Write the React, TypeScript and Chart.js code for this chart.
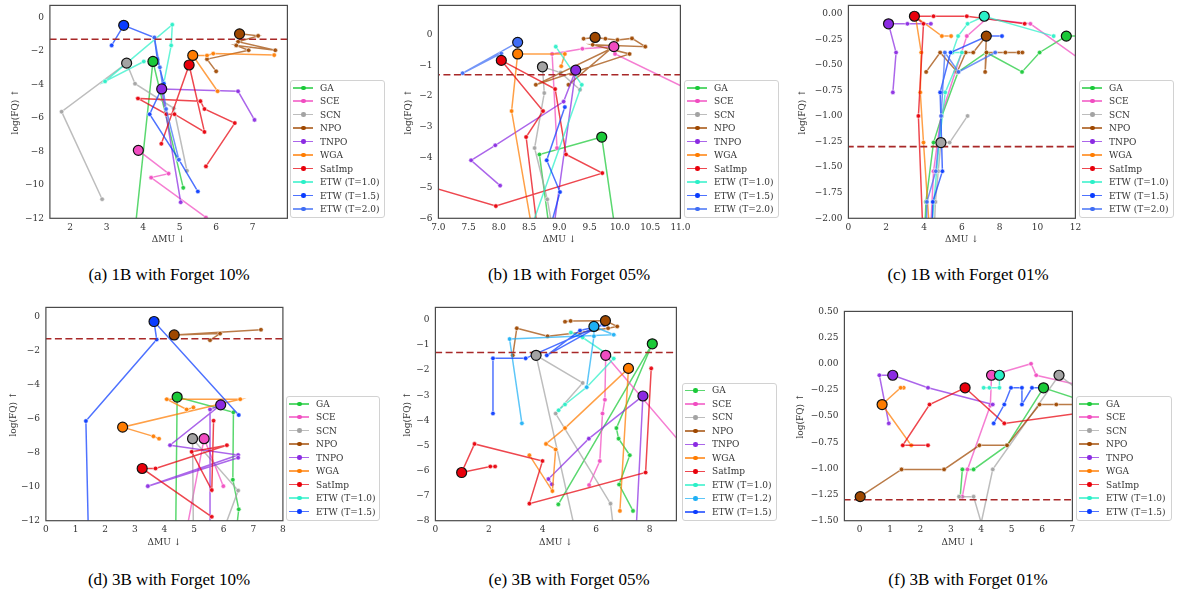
import React, { useEffect, useRef } from 'react';
import { Chart, registerables } from 'chart.js';

Chart.register(...registerables);

// ---------------- categories ----------------
const LABELS_1B = ['GA', 'SCE', 'SCN', 'NPO', 'TNPO', 'WGA', 'SatImp', 'ETW (T=1.0)', 'ETW (T=1.5)', 'ETW (T=2.0)'];
const LABELS_3B10 = ['GA', 'SCE', 'SCN', 'NPO', 'TNPO', 'WGA', 'SatImp', 'ETW (T=1.0)', 'ETW (T=1.5)'];
const LABELS_3B05 = ['GA', 'SCE', 'SCN', 'NPO', 'TNPO', 'WGA', 'SatImp', 'ETW (T=1.0)', 'ETW (T=1.2)', 'ETW (T=1.5)'];
const LABELS_3B01 = ['GA', 'SCE', 'SCN', 'NPO', 'TNPO', 'WGA', 'SatImp', 'ETW (T=1.0)', 'ETW (T=1.5)'];

const FQ_THRESHOLD = -1.3;

// ---------------- tick labels / ranges ----------------
const A_X_TICKS = [2, 3, 4, 5, 6, 7];
const A_Y_TICKS = [0, -2, -4, -6, -8, -10, -12];
const A_X_RANGE = [1.45, 7.95];
const A_Y_RANGE = [-12, 0.72];

const B_X_TICKS = [7, 7.5, 8, 8.5, 9, 9.5, 10, 10.5, 11];
const B_Y_TICKS = [0, -1, -2, -3, -4, -5, -6];
const B_X_RANGE = [7, 11];
const B_Y_RANGE = [-6, 0.97];

const C_X_TICKS = [0, 2, 4, 6, 8, 10, 12];
const C_Y_TICKS = [0, -0.25, -0.5, -0.75, -1, -1.25, -1.5, -1.75, -2];
const C_X_RANGE = [0, 12];
const C_Y_RANGE = [-2, 0.08];

const D_X_TICKS = [0, 1, 2, 3, 4, 5, 6, 7, 8];
const D_Y_TICKS = [0, -2, -4, -6, -8, -10, -12];
const D_X_RANGE = [0, 8];
const D_Y_RANGE = [-12, 0.54];

const E_X_TICKS = [0, 2, 4, 6, 8];
const E_Y_TICKS = [0, -1, -2, -3, -4, -5, -6, -7, -8];
const E_X_RANGE = [0, 9];
const E_Y_RANGE = [-8, 0.5];

const F_X_TICKS = [0, 1, 2, 3, 4, 5, 6, 7];
const F_Y_TICKS = [0.5, 0.25, 0, -0.25, -0.5, -0.75, -1, -1.25, -1.5];
const F_X_RANGE = [-0.5, 7];
const F_Y_RANGE = [-1.5, 0.5];

// ---------------- (a) 1B forget 10% : [ΔMU, log(FQ)] ----------------
const A_GA = [[3.62, -16], [4.27, -2.63], [5.1, -10.18]];
const A_SCE = [[3.87, -7.94], [4.7, -9.33], [4.22, -9.57], [5.72, -11.95]];
const A_SCN = [[2.88, -10.86], [1.77, -5.63], [3.55, -2.73], [3.78, -3.96], [4.84, -5.43], [5.2, -9.16]];
const A_NPO = [[6.64, -0.98], [7.15, -1.1], [6.6, -1.45], [7.62, -1.96], [6.55, -1.67], [6.89, -1.96], [5.75, -2.49], [6.0, -3.22]];
const A_TNPO = [[5.03, -11.04], [4.51, -4.27], [6.6, -4.41], [7.05, -6.12]];
const A_WGA = [[6.04, -4.41], [5.36, -2.27], [5.75, -2.27], [5.92, -2.16], [7.59, -2.25]];
const A_SAT = [[4.5, -7.55], [5.26, -2.84], [5.68, -6.84], [4.86, -5.78], [4.64, -5.78], [3.86, -4.84], [5.57, -5.0], [5.68, -5.47], [6.51, -6.31], [5.72, -8.9]];
const A_ETW10 = [[4.02, -2.63], [2.96, -3.82], [4.8, -0.43], [4.77, -1.67], [4.57, -3.9]];
const A_ETW15 = [[3.14, -1.67], [3.47, -0.47], [4.31, -1.2], [4.39, -2.49], [4.57, -3.96], [4.18, -5.78], [4.98, -8.5], [5.5, -10.4]];
const A_ETW20 = [[4.31, -1.2], [4.46, -2.98], [4.63, -5.47], [4.98, -8.5]];
const A_BEST = [[4.27, -2.63], [3.87, -7.94], [3.55, -2.73], [6.64, -0.98], [4.51, -4.27], [5.36, -2.27], [5.26, -2.84], null, [3.47, -0.47], null];

// ---------------- (b) 1B forget 05% ----------------
const B_GA = [[8.85, -6.6], [8.67, -3.91], [9.7, -3.34], [9.93, -6.5]];
const B_SCE = [[8.96, -3.7], [8.88, -0.62], [9.38, -0.45], [9.9, -0.38], [9.92, -0.62], [11.2, -1.85]];
const B_SCN = [[9.34, -1.79], [9.02, -1.23], [8.72, -1.04], [8.75, -1.9], [8.59, -3.7], [8.8, -5.38], [8.9, -6.5]];
const B_NPO = [[9.4, -0.12], [9.59, -0.08], [9.76, -0.12], [9.96, -0.16], [10.2, -0.11], [10.42, -0.38], [9.55, -0.32], [10.16, -0.62], [8.61, -1.63], [9.85, -0.45], [9.15, -1.63]];
const B_TNPO = [[8.02, -4.93], [7.54, -4.1], [7.94, -3.61], [9.07, -2.18], [9.27, -1.15], [8.9, -6.4]];
const B_WGA = [[9.03, -1.02], [9.09, -0.62], [8.31, -0.62], [8.21, -2.49], [8.56, -6.5]];
const B_SAT = [[6.8, -4.93], [7.95, -5.6], [9.71, -4.52], [9.11, -3.91], [8.93, -1.77], [8.04, -0.83], [8.73, -2.49], [8.45, -3.34], [8.65, -6.6]];
const B_ETW10 = [[8.94, -0.38], [9.37, -1.63], [8.5, -6.5]];
const B_ETW15 = [[9.09, -2.36], [8.79, -4.1], [9.01, -5.14], [8.85, -6.3]];
const B_ETW20 = [[8.04, -0.6], [7.4, -1.25], [8.31, -0.24]];
const B_BEST = [[9.7, -3.34], [9.9, -0.38], [8.72, -1.04], [9.59, -0.08], [9.27, -1.15], [8.31, -0.62], [8.04, -0.83], null, null, [8.31, -0.24]];

// ---------------- (c) 1B forget 01% ----------------
const C_GA = [[12.4, -0.22], [11.52, -0.22], [10.11, -0.38], [9.18, -0.57], [7.29, -0.38], [5.8, -0.57], [4.94, -1.0], [4.5, -1.26], [4.1, -1.84], [4.0, -2.3]];
const C_SCE = [[12.5, -0.48], [9.62, -0.1], [7.3, -0.05], [6.26, -0.22], [5.65, -0.57], [4.9, -1.0], [4.5, -1.54], [4.3, -2.3]];
const C_SCN = [[6.3, -1.0], [5.35, -1.26], [4.89, -1.26], [4.75, -1.54], [4.6, -1.84], [4.5, -2.3]];
const C_NPO = [[4.11, -0.57], [4.85, -0.38], [5.75, -0.57], [6.2, -0.38], [6.6, -0.38], [7.29, -0.22], [7.23, -0.57], [7.3, -0.38], [8.3, -0.38], [9.0, -0.38], [9.2, -0.38]];
const C_TNPO = [[4.36, -0.1], [3.12, -0.1], [2.12, -0.1], [2.52, -0.38], [2.35, -0.77]];
const C_WGA = [[5.43, -0.22], [4.94, -0.22], [3.55, -0.03], [3.85, -0.38], [3.8, -0.77], [3.97, -1.26], [4.35, -2.3]];
const C_SAT = [[3.97, -2.3], [3.7, -1.0], [3.97, -0.1], [3.49, -0.026], [4.5, -0.026], [6.26, -0.026], [9.32, -0.1]];
const C_ETW10 = [[10.85, -0.22], [7.18, -0.026], [6.3, -0.1], [5.8, -0.22], [5.5, -0.38], [6.0, -0.38], [5.12, -0.77], [4.8, -1.26], [4.3, -2.3]];
const C_ETW15 = [[8.12, -0.22], [7.35, -0.22], [5.4, -0.38], [4.85, -0.77], [4.97, -1.54], [4.46, -1.84], [4.4, -2.3]];
const C_ETW20 = [[7.76, -0.38], [5.82, -0.57], [5.1, -0.38], [4.9, -1.0], [4.62, -1.54], [4.15, -1.84], [4.1, -2.3]];
const C_BEST = [[11.52, -0.22], null, [4.89, -1.26], [7.29, -0.22], [2.12, -0.1], null, [3.49, -0.026], [7.18, -0.026], null, null];

// ---------------- (d) 3B forget 10% ----------------
const D_GA = [[4.38, -13], [4.43, -4.73], [6.33, -5.63], [6.31, -9.59], [6.51, -11.33], [6.4, -13]];
const D_SCE = [[4.7, -13], [5.34, -7.18], [5.99, -9.97]];
const D_SCN = [[4.98, -13], [4.95, -7.18], [6.49, -10.23], [5.9, -13]];
const D_NPO = [[7.26, -0.77], [4.33, -1.08], [5.88, -1.0], [5.54, -1.39]];
const D_TNPO = [[5.56, -13], [5.54, -5.46], [5.9, -5.19], [4.19, -7.56], [6.49, -8.14], [3.44, -9.97], [6.49, -8.3]];
const D_WGA = [[3.82, -7.18], [3.63, -7.04], [2.59, -6.5], [6.56, -4.86], [4.08, -4.86], [4.75, -5.46], [4.98, -5.34]];
const D_SAT = [[5.6, -11.77], [3.25, -8.93], [3.7, -8.93], [6.11, -7.56], [4.92, -7.95], [5.6, -10.2], [5.66, -6.12]];
const D_ETW10 = [];
const D_ETW15 = [[1.45, -14], [1.35, -6.14], [3.74, -1.35], [3.65, -0.29], [6.51, -5.79]];
const D_BEST = [[4.43, -4.73], [5.34, -7.18], [4.95, -7.18], [4.33, -1.08], [5.9, -5.19], [2.59, -6.5], [3.25, -8.93], null, [3.65, -0.29]];

// ---------------- (e) 3B forget 05% ----------------
const E_GA = [[4.59, -7.35], [8.1, -0.95], [6.76, -4.31], [6.84, -4.73], [7.26, -5.39], [6.86, -6.56], [7.38, -7.61]];
const E_SCE = [[9.2, -4.95], [6.36, -1.41], [6.33, -3.18], [6.24, -3.73], [6.14, -5.62], [5.74, -6.58]];
const E_SCN = [[5.2, -8.3], [3.76, -1.41], [5.5, -2.51], [4.49, -3.73], [6.54, -7.32], [6.65, -8.3]];
const E_NPO = [[2.89, -1.41], [3.04, -0.33], [4.19, -0.65], [5.4, -0.5], [6.45, -0.33], [6.79, -0.26], [6.35, -0.03], [5.05, -0.04], [4.84, -0.07]];
const E_TNPO = [[7.5, -8.3], [7.75, -3.03], [5.73, -4.73], [4.22, -6.34], [4.35, -6.55]];
const E_WGA = [[6.89, -7.61], [7.21, -1.93], [4.84, -4.31], [4.13, -4.94], [4.49, -5.16], [4.37, -6.82], [3.51, -5.39]];
const E_SAT = [[2.23, -5.84], [2.05, -5.84], [0.98, -6.08], [1.46, -4.94], [4.0, -5.62], [3.51, -7.32], [7.85, -6.08], [8.06, -1.93]];
const E_ETW10 = [[5.06, -0.5], [5.5, -0.7], [6.66, -1.54], [5.65, -2.68], [4.84, -3.37], [4.6, -3.6]];
const E_ETW12 = [[3.23, -4.12], [2.77, -0.76], [6.66, -0.59], [5.92, -0.26], [5.92, -0.65], [5.65, -2.68]];
const E_ETW15 = [[2.15, -3.73], [2.15, -1.53], [3.37, -1.53], [6.27, -0.16], [4.16, -1.41], [5.4, -0.42], [6.3, -0.2]];
const E_BEST = [[8.1, -0.95], [6.36, -1.41], [3.76, -1.41], [6.35, -0.03], [7.75, -3.03], [7.21, -1.93], [0.98, -6.08], null, [5.92, -0.26], null];

// ---------------- (f) 3B forget 01% ----------------
const F_GA = [[3.31, -1.27], [3.38, -1.01], [3.75, -1.01], [4.85, -0.78], [6.05, -0.23], [7.3, -0.35]];
const F_SCE = [[3.38, -1.27], [3.55, -1.01], [4.3, -0.4], [4.34, -0.11], [5.64, 0.0], [5.81, -0.11], [7.3, -0.21]];
const F_SCN = [[3.27, -1.27], [3.75, -1.27], [4.0, -1.52], [4.38, -1.01], [6.56, -0.11], [7.2, -0.25]];
const F_NPO = [[0.02, -1.27], [1.38, -1.01], [2.78, -1.01], [3.94, -0.78], [4.85, -0.78], [5.92, -0.39], [6.47, -0.39], [7.3, -0.39]];
const F_TNPO = [[0.96, -0.57], [0.65, -0.11], [1.09, -0.11], [2.25, -0.23], [4.38, -0.39]];
const F_WGA = [[1.45, -0.23], [1.35, -0.23], [0.74, -0.39], [1.7, -0.78]];
const F_SAT = [[2.25, -0.78], [1.42, -0.78], [2.3, -0.39], [3.47, -0.23], [4.76, -0.57], [7.3, -0.47]];
const F_ETW10 = [[4.08, -0.23], [4.27, -0.23], [4.6, -0.23], [4.6, -0.11]];
const F_ETW15 = [[4.41, -0.57], [4.76, -0.39], [4.98, -0.23], [5.34, -0.23], [5.34, -0.39], [5.67, -0.23], [6.0, -0.23]];
const F_BEST = [[6.05, -0.23], [4.34, -0.11], [6.56, -0.11], [0.02, -1.27], [1.09, -0.11], [0.74, -0.39], [3.47, -0.23], [4.6, -0.11], null];

// ---------------- styling ----------------
const COLORS: Record<string, string> = {
  GA: '#1ac938',
  SCE: '#f14cc1',
  SCN: '#a3a3a3',
  NPO: '#9f4800',
  TNPO: '#8b2be2',
  WGA: '#ff7c00',
  SatImp: '#e8000b',
  'ETW (T=1.0)': '#2af0c8',
  'ETW (T=1.2)': '#1fb0f5',
  'ETW (T=1.5)': '#0a3cff',
  'ETW (T=2.0)': '#3f6df5',
};

function rgba(hex: string, a: number) {
  const n = parseInt(hex.slice(1), 16);
  return `rgba(${(n >> 16) & 255},${(n >> 8) & 255},${n & 255},${a})`;
}

function fmt(v: number, dec: number) {
  const s = Math.abs(v).toFixed(dec);
  return (v < -1e-9 ? '\u2212' : '') + s;
}

const TICK_FONT = { family: 'DejaVu Serif', size: 9 };
const TEXT_COLOR = '#333333';

const framePlugin = {
  id: 'frame',
  afterDraw(chart: any) {
    const { ctx, chartArea } = chart;
    const { left, top, right, bottom } = chartArea;
    ctx.save();
    ctx.strokeStyle = '#4a4a4a';
    ctx.lineWidth = 1.2;
    ctx.strokeRect(left, top, right - left, bottom - top);
    ctx.restore();
  },
};

const PANELS = [
  { key: 'a', labels: LABELS_1B, series: [A_GA, A_SCE, A_SCN, A_NPO, A_TNPO, A_WGA, A_SAT, A_ETW10, A_ETW15, A_ETW20], best: A_BEST,
    xr: A_X_RANGE, yr: A_Y_RANGE, xt: A_X_TICKS, yt: A_Y_TICKS, xd: 0, yd: 0,
    L: 49.5, R: 287, T: 2, B: 218.3, yTitleX: 15, xTitleY: 239, lg: [290, 80, 94.5], cap: '(a) 1B with Forget 10%', capX: 169, capY: 275 },
  { key: 'b', labels: LABELS_1B, series: [B_GA, B_SCE, B_SCN, B_NPO, B_TNPO, B_WGA, B_SAT, B_ETW10, B_ETW15, B_ETW20], best: B_BEST,
    xr: B_X_RANGE, yr: B_Y_RANGE, xt: B_X_TICKS, yt: B_Y_TICKS, xd: 1, yd: 0,
    L: 438, R: 680, T: 2, B: 218.3, yTitleX: 408, xTitleY: 239, lg: [684, 80, 95], cap: '(b) 1B with Forget 05%', capX: 569, capY: 275 },
  { key: 'c', labels: LABELS_1B, series: [C_GA, C_SCE, C_SCN, C_NPO, C_TNPO, C_WGA, C_SAT, C_ETW10, C_ETW15, C_ETW20], best: C_BEST,
    xr: C_X_RANGE, yr: C_Y_RANGE, xt: C_X_TICKS, yt: C_Y_TICKS, xd: 0, yd: 2,
    L: 848, R: 1075, T: 2, B: 218.3, yTitleX: 802, xTitleY: 239, lg: [1079, 80, 94.5], cap: '(c) 1B with Forget 01%', capX: 968, capY: 275 },
  { key: 'd', labels: LABELS_3B10, series: [D_GA, D_SCE, D_SCN, D_NPO, D_TNPO, D_WGA, D_SAT, D_ETW10, D_ETW15], best: D_BEST,
    xr: D_X_RANGE, yr: D_Y_RANGE, xt: D_X_TICKS, yt: D_Y_TICKS, xd: 0, yd: 0,
    L: 46, R: 283, T: 304, B: 520.7, yTitleX: 13.5, xTitleY: 542, lg: [286, 396, 94], cap: '(d) 3B with Forget 10%', capX: 169, capY: 580 },
  { key: 'e', labels: LABELS_3B05, series: [E_GA, E_SCE, E_SCN, E_NPO, E_TNPO, E_WGA, E_SAT, E_ETW10, E_ETW12, E_ETW15], best: E_BEST,
    xr: E_X_RANGE, yr: E_Y_RANGE, xt: E_X_TICKS, yt: E_Y_TICKS, xd: 0, yd: 0,
    L: 435, R: 676, T: 304, B: 520.7, yTitleX: 407, xTitleY: 542, lg: [682, 382.7, 95], cap: '(e) 3B with Forget 05%', capX: 569, capY: 580 },
  { key: 'f', labels: LABELS_3B01, series: [F_GA, F_SCE, F_SCN, F_NPO, F_TNPO, F_WGA, F_SAT, F_ETW10, F_ETW15], best: F_BEST,
    xr: F_X_RANGE, yr: F_Y_RANGE, xt: F_X_TICKS, yt: F_Y_TICKS, xd: 0, yd: 2,
    L: 844, R: 1072, T: 308, B: 520.7, yTitleX: 800, xTitleY: 542, lg: [1076, 396, 96], cap: '(f) 3B with Forget 01%', capX: 968, capY: 580 },
];

const PAD_TOP = 8;
const PAD_RIGHT = 16;

function Panel({ p }: { p: any }) {
  const ref = useRef<HTMLCanvasElement | null>(null);
  const x0 = p.yTitleX - 5.4;
  const y0 = p.T - PAD_TOP;
  const w = Math.ceil(p.R - x0 + PAD_RIGHT);
  const h = Math.ceil(p.xTitleY + 5.4 - y0);
  const yAxisW = p.L - x0;
  const xAxisH = y0 + h - p.B;
  const padRight = w - (p.R - x0);

  useEffect(() => {
    const n = p.labels.length;
    const datasets: any[] = [];
    p.labels.forEach((lab: string, i: number) => {
      const c = COLORS[lab];
      datasets.push({
        label: lab,
        data: p.series[i].map(([x, y]: number[]) => ({ x, y })),
        showLine: true,
        borderColor: rgba(c, 0.72),
        borderWidth: 1.5,
        pointRadius: 2.3,
        pointHoverRadius: 2.3,
        pointBackgroundColor: rgba(c, 0.9),
        pointBorderColor: 'rgba(255,255,255,0.7)',
        pointBorderWidth: 0.8,
        clip: 0,
        order: 100 - i,
      });
    });
    datasets.push({
      label: 'threshold',
      data: [{ x: -100, y: FQ_THRESHOLD }, { x: 100, y: FQ_THRESHOLD }],
      showLine: true,
      borderColor: '#a82828',
      borderDash: [7, 3.5],
      borderWidth: 1.6,
      pointRadius: 0,
      clip: 0,
      order: 50,
    });
    p.best.forEach((b: number[] | null, i: number) => {
      if (!b) return;
      const c = COLORS[p.labels[i]];
      datasets.push({
        label: p.labels[i] + ' best',
        data: [{ x: b[0], y: b[1] }],
        showLine: false,
        pointRadius: 5,
        pointHoverRadius: 5,
        pointBackgroundColor: c,
        pointBorderColor: '#111111',
        pointBorderWidth: 1.2,
        clip: 0,
        order: 20 - i,
      });
    });

    const mkTicks = (vals: number[]) => (s: any) => {
      s.ticks = vals.map((v) => ({ value: v }));
    };

    const chart = new Chart(ref.current as HTMLCanvasElement, {
      type: 'scatter',
      data: { datasets },
      plugins: [framePlugin],
      options: {
        responsive: false,
        animation: false,
        devicePixelRatio: 1,
        layout: { padding: { left: 0, top: PAD_TOP, right: padRight, bottom: 0 } },
        plugins: { legend: { display: false }, tooltip: { enabled: false } },
        events: [],
        scales: {
          x: {
            type: 'linear',
            position: 'bottom',
            min: p.xr[0],
            max: p.xr[1],
            afterBuildTicks: mkTicks(p.xt),
            afterFit: (s: any) => { s.height = xAxisH; },
            grid: { display: false, drawTicks: false },
            border: { display: false },
            ticks: { font: TICK_FONT, color: TEXT_COLOR, padding: 4, maxRotation: 0, autoSkip: false, callback: (v: any) => fmt(Number(v), p.xd) },
            title: { display: true, text: '\u0394MU \u2193', font: TICK_FONT, color: TEXT_COLOR, padding: { top: 0, bottom: 0 } },
          },
          y: {
            type: 'linear',
            position: 'left',
            min: p.yr[0],
            max: p.yr[1],
            afterBuildTicks: mkTicks(p.yt),
            afterFit: (s: any) => { s.width = yAxisW; },
            grid: { display: false, drawTicks: false },
            border: { display: false },
            ticks: { font: TICK_FONT, color: TEXT_COLOR, padding: 6, autoSkip: false, callback: (v: any) => fmt(Number(v), p.yd) },
            title: { display: true, text: 'log(FQ) \u2191', font: TICK_FONT, color: TEXT_COLOR, padding: { top: 0, bottom: 0 } },
          },
        },
      } as any,
    });
    return () => chart.destroy();
  }, []);

  const [lx, ly, lw] = p.lg;
  const rows = p.labels.length;
  return (
    <>
      <canvas ref={ref} width={w} height={h} style={{ position: 'absolute', left: x0, top: y0, width: w, height: h }} />
      <div
        style={{
          position: 'absolute', left: lx, top: ly, width: lw, height: rows * 13.5 + 3,
          border: '1px solid #d2d2d2', borderRadius: 3, background: 'rgba(255,255,255,0.85)', boxSizing: 'border-box',
        }}
      >
        {p.labels.map((lab: string, i: number) => {
          const c = COLORS[lab];
          return (
            <div key={lab} style={{ position: 'absolute', left: 0, top: -0.3 + i * 13.5, height: 14, width: '100%' }}>
              <div style={{ position: 'absolute', left: 2.3, top: 6.3, width: 20, height: 1.5, background: rgba(c, 0.72) }} />
              <div style={{ position: 'absolute', left: 10, top: 4.8, width: 4.5, height: 4.5, borderRadius: '50%', background: c }} />
              <span style={{ position: 'absolute', left: 29, top: 0, lineHeight: '14px', fontFamily: 'DejaVu Serif', fontSize: 9, color: TEXT_COLOR, whiteSpace: 'nowrap' }}>{lab}</span>
            </div>
          );
        })}
      </div>
      <div style={{ position: 'absolute', left: p.capX - 200, top: p.capY - 11, width: 400, textAlign: 'center', fontFamily: 'Liberation Serif', fontSize: 17, lineHeight: '22px', color: '#000' }}>
        {p.cap}
      </div>
    </>
  );
}

export default function App() {
  return (
    <div style={{ position: 'absolute', left: 0, top: 0, width: 1183, height: 601, background: '#ffffff', overflow: 'hidden' }}>
      {PANELS.map((p) => (
        <Panel key={p.key} p={p} />
      ))}
    </div>
  );
}
